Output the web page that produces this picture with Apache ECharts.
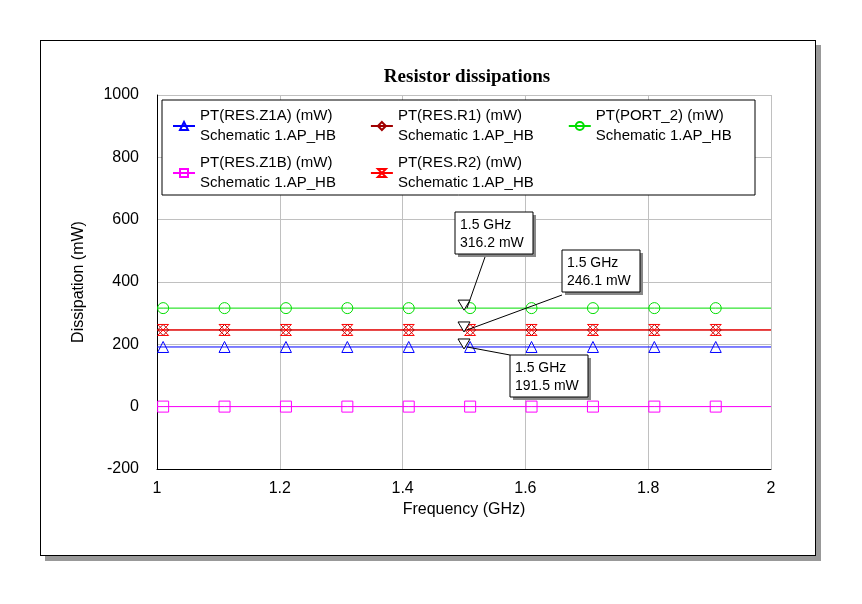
<!DOCTYPE html>
<html><head><meta charset="utf-8">
<script src="https://cdn.jsdelivr.net/npm/echarts@6/dist/echarts.min.js"></script>
<style>html,body{margin:0;padding:0;background:#fff}
#wrap{position:relative;width:862px;height:604px}
#frame{position:absolute;left:40px;top:40px;width:774px;height:514px;border:1px solid #000;background:#fff;box-shadow:5px 5px 0 #999}
#c{position:absolute;left:0;top:0;width:862px;height:604px}</style>
</head><body><div id="wrap"><div id="frame"></div><div id="c"></div></div>
<script>
const freqs = [1, 1.01, 1.11, 1.21, 1.31, 1.41, 1.51, 1.61, 1.71, 1.81, 1.91, 2];
const seriesNames = ['PT(RES.Z1A) (mW)', 'PT(RES.R1) (mW)', 'PT(PORT_2) (mW)', 'PT(RES.Z1B) (mW)', 'PT(RES.R2) (mW)'];
const seriesValues = [191.5, 246.1, 316.2, 0.2, 246.1];
const seriesColors = ['#0000ff', '#a00000', '#00dd00', '#ff00ff', '#ff0000'];
const seriesSymbols = ['triangle', 'diamond', 'circle', 'rect', 'path://M0,0L10,0L0,14L10,14Z'];
const markerFreq = 1.5;
const markerValues = [316.2, 246.1, 191.5];
const markerLabels = ['1.5 GHz\n316.2 mW', '1.5 GHz\n246.1 mW', '1.5 GHz\n191.5 mW'];
const markerBoxes = [[455, 212], [562, 250], [510, 355]];

const font = 'Arial, "Liberation Sans", sans-serif';
const chart = echarts.init(document.getElementById('c'));

const series = seriesNames.map((n, i) => ({
  name: n,
  type: 'line',
  data: freqs.map(f => [f, seriesValues[i]]),
  symbol: seriesSymbols[i],
  symbolSize: (v, p) => (p.dataIndex === 0 || p.dataIndex === freqs.length - 1) ? 0 : 11,
  showAllSymbol: true,
  lineStyle: {color: seriesColors[i], width: 1},
  itemStyle: {color: 'transparent', borderColor: seriesColors[i], borderWidth: 1},
  animation: false
}));

const legendBase = {
  orient: 'horizontal', itemWidth: 22, itemHeight: 10, itemGap: 34, width: 640,
  itemStyle: {color: 'transparent'},
  formatter: n => n + '\nSchematic 1.AP_HB',
  textStyle: {fontFamily: font, fontSize: 15, color: '#000', lineHeight: 20}
};

chart.setOption({
  animation: false,
  title: {
    text: 'Resistor dissipations', left: 462, top: 63, textAlign: 'center',
    textStyle: {fontFamily: '"Liberation Serif", "Times New Roman", serif', fontSize: 19, fontWeight: 'bold', color: '#000'}
  },
  grid: {left: 157, top: 95, right: 91, bottom: 135},
  xAxis: {
    type: 'value', min: 1, max: 2, interval: 0.2,
    name: 'Frequency (GHz)', nameLocation: 'middle', nameGap: 30,
    nameTextStyle: {fontFamily: font, fontSize: 16, color: '#000'},
    axisLine: {onZero: false, lineStyle: {color: '#000'}},
    axisTick: {show: false},
    axisLabel: {fontFamily: font, fontSize: 16, color: '#000', margin: 12},
    splitLine: {lineStyle: {color: '#c0c0c0'}}
  },
  yAxis: {
    type: 'value', min: -200, max: 1000, interval: 200,
    name: 'Dissipation (mW)', nameLocation: 'middle', nameGap: 70,
    nameTextStyle: {fontFamily: font, fontSize: 16, color: '#000'},
    axisLine: {show: true, lineStyle: {color: '#000'}},
    axisTick: {show: false},
    axisLabel: {fontFamily: font, fontSize: 16, color: '#000', margin: 18, formatter: v => String(v)},
    splitLine: {lineStyle: {color: '#c0c0c0'}}
  },
  legend: [
    Object.assign({}, legendBase, {data: seriesNames.slice(0, 3), left: 168, top: 102, padding: 4}),
    Object.assign({}, legendBase, {data: seriesNames.slice(3), left: 168, top: 149, padding: 4})
  ],
  series: series
});

const g = [{type: 'rect', shape: {x: 162, y: 100, width: 593, height: 95}, style: {fill: '#fff', stroke: '#000', lineWidth: 1}, z: 3}];
markerValues.forEach((v, i) => {
  const p = chart.convertToPixel({xAxisIndex: 0, yAxisIndex: 0}, [markerFreq, v]);
  const [bx, by] = markerBoxes[i];
  const ty = i === 2 ? by : by + 45;
  g.push({type: 'line', shape: {x1: p[0] + 3, y1: p[1], x2: bx + (i === 0 ? 30 : 0), y2: ty}, style: {stroke: '#000', lineWidth: 1}, z: 50});
  g.push({type: 'polygon', shape: {points: [[p[0] - 6, p[1] - 8], [p[0] + 6, p[1] - 8], [p[0], p[1] + 2]]}, style: {fill: '#fff', stroke: '#000'}, z: 51});
  g.push({type: 'rect', shape: {x: bx + 3, y: by + 3, width: 78, height: 42}, style: {fill: '#888'}, z: 52});
  g.push({type: 'rect', shape: {x: bx, y: by, width: 78, height: 42}, style: {fill: '#fff', stroke: '#000'}, z: 53});
  g.push({type: 'text', x: bx + 5, y: by + 4, style: {text: markerLabels[i], font: '14px ' + font, fill: '#000', lineHeight: 18}, z: 54});
});
chart.setOption({graphic: g});
</script></body></html>
